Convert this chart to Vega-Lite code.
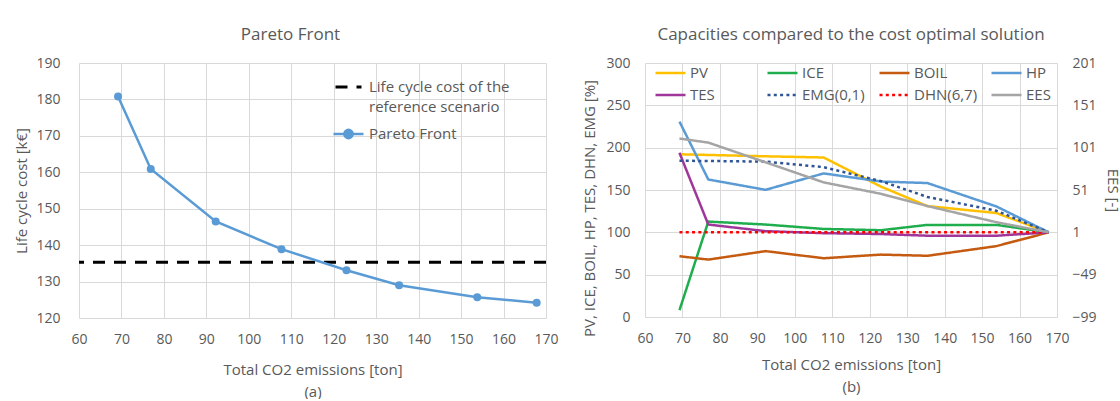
{
  "$schema": "https://vega.github.io/schema/vega-lite/v6.json",
  "background": "white",
  "padding": {"left": 14, "top": 26, "right": 0, "bottom": 0},
  "bounds": "flush",
  "spacing": 99,
  "config": {
    "font": "Open Sans",
    "view": {"stroke": null},
    "axis": {
      "domain": false, "ticks": false, "gridColor": "#d9d9d9", "gridWidth": 1,
      "labelOverlap": false, "labelFlush": false, "labelBound": false,
      "labelColor": "#595959", "labelFontSize": 14, "labelFont": "Open Sans",
      "titleColor": "#595959", "titleFontSize": 15, "titleFontWeight": "normal", "titleFont": "Open Sans"
    },
    "legend": {"labelColor": "#595959", "labelFontSize": 15, "labelFont": "Open Sans", "padding": 0, "title": null},
    "title": {"color": "#595959", "fontSize": 17, "fontWeight": "normal", "font": "Open Sans", "offset": 12, "frame": "group", "anchor": "middle"}
  },
  "datasets": {
    "refcost": [
      {"series": "Life cycle cost of the reference scenario", "cost": 135.3}
    ],
    "pareto": [
      {"series": "Pareto Front", "emissions": 69.2, "cost": 180.8},
      {"series": "Pareto Front", "emissions": 76.9, "cost": 160.9},
      {"series": "Pareto Front", "emissions": 92.2, "cost": 146.5},
      {"series": "Pareto Front", "emissions": 107.7, "cost": 138.9},
      {"series": "Pareto Front", "emissions": 123.0, "cost": 133.1},
      {"series": "Pareto Front", "emissions": 135.4, "cost": 129.0},
      {"series": "Pareto Front", "emissions": 153.8, "cost": 125.7},
      {"series": "Pareto Front", "emissions": 167.8, "cost": 124.2}
    ],
    "caps": [
      {"series": "PV", "emissions": 69.2, "pct": 192.2},
      {"series": "PV", "emissions": 76.9, "pct": 191.4},
      {"series": "PV", "emissions": 92.2, "pct": 189.8},
      {"series": "PV", "emissions": 107.7, "pct": 188.4},
      {"series": "PV", "emissions": 123.0, "pct": 154},
      {"series": "PV", "emissions": 135.4, "pct": 131},
      {"series": "PV", "emissions": 153.8, "pct": 122.8},
      {"series": "PV", "emissions": 167.8, "pct": 100},
      {"series": "ICE", "emissions": 69.2, "pct": 8},
      {"series": "ICE", "emissions": 76.9, "pct": 112.7},
      {"series": "ICE", "emissions": 92.2, "pct": 109.2},
      {"series": "ICE", "emissions": 107.7, "pct": 104},
      {"series": "ICE", "emissions": 123.0, "pct": 102.5},
      {"series": "ICE", "emissions": 135.4, "pct": 108.8},
      {"series": "ICE", "emissions": 153.8, "pct": 108.8},
      {"series": "ICE", "emissions": 167.8, "pct": 100},
      {"series": "BOIL", "emissions": 69.2, "pct": 71.8},
      {"series": "BOIL", "emissions": 76.9, "pct": 67.8},
      {"series": "BOIL", "emissions": 92.2, "pct": 77.8},
      {"series": "BOIL", "emissions": 107.7, "pct": 69.4},
      {"series": "BOIL", "emissions": 123.0, "pct": 73.7},
      {"series": "BOIL", "emissions": 135.4, "pct": 72.3},
      {"series": "BOIL", "emissions": 153.8, "pct": 83.7},
      {"series": "BOIL", "emissions": 167.8, "pct": 100},
      {"series": "HP", "emissions": 69.2, "pct": 230.8},
      {"series": "HP", "emissions": 76.9, "pct": 162.4},
      {"series": "HP", "emissions": 92.2, "pct": 150.2},
      {"series": "HP", "emissions": 107.7, "pct": 169.6},
      {"series": "HP", "emissions": 123.0, "pct": 160},
      {"series": "HP", "emissions": 135.4, "pct": 158.2},
      {"series": "HP", "emissions": 153.8, "pct": 130.6},
      {"series": "HP", "emissions": 167.8, "pct": 100},
      {"series": "TES", "emissions": 69.2, "pct": 193.9},
      {"series": "TES", "emissions": 76.9, "pct": 109.2},
      {"series": "TES", "emissions": 92.2, "pct": 101.4},
      {"series": "TES", "emissions": 107.7, "pct": 99},
      {"series": "TES", "emissions": 123.0, "pct": 98},
      {"series": "TES", "emissions": 135.4, "pct": 96},
      {"series": "TES", "emissions": 153.8, "pct": 96},
      {"series": "TES", "emissions": 167.8, "pct": 100},
      {"series": "EMG(0,1)", "emissions": 69.2, "pct": 184.5},
      {"series": "EMG(0,1)", "emissions": 76.9, "pct": 184.3},
      {"series": "EMG(0,1)", "emissions": 92.2, "pct": 183.5},
      {"series": "EMG(0,1)", "emissions": 107.7, "pct": 177},
      {"series": "EMG(0,1)", "emissions": 123.0, "pct": 160.5},
      {"series": "EMG(0,1)", "emissions": 135.4, "pct": 141.8},
      {"series": "EMG(0,1)", "emissions": 153.8, "pct": 125.5},
      {"series": "EMG(0,1)", "emissions": 167.8, "pct": 100},
      {"series": "DHN(6,7)", "emissions": 69.2, "pct": 100},
      {"series": "DHN(6,7)", "emissions": 76.9, "pct": 100},
      {"series": "DHN(6,7)", "emissions": 92.2, "pct": 100},
      {"series": "DHN(6,7)", "emissions": 107.7, "pct": 100},
      {"series": "DHN(6,7)", "emissions": 123.0, "pct": 100},
      {"series": "DHN(6,7)", "emissions": 135.4, "pct": 100},
      {"series": "DHN(6,7)", "emissions": 153.8, "pct": 100},
      {"series": "DHN(6,7)", "emissions": 167.8, "pct": 100}
    ],
    "ees": [
      {"series": "EES", "emissions": 69.2, "ees": 111.8},
      {"series": "EES", "emissions": 76.9, "ees": 107},
      {"series": "EES", "emissions": 92.2, "ees": 83.7},
      {"series": "EES", "emissions": 107.7, "ees": 60},
      {"series": "EES", "emissions": 123.0, "ees": 46.5},
      {"series": "EES", "emissions": 135.4, "ees": 32},
      {"series": "EES", "emissions": 153.8, "ees": 13},
      {"series": "EES", "emissions": 167.8, "ees": 1}
    ]
  },
  "resolve": {
    "scale": {"color": "independent", "strokeDash": "independent"},
    "legend": {"color": "independent", "strokeDash": "independent"}
  },
  "hconcat": [
    {
      "width": 467,
      "height": 255,
      "title": {"text": "Pareto Front", "dx": -22},
      "layer": [
        {
          "data": {"name": "refcost"},
          "mark": {"type": "rule", "color": "black", "strokeWidth": 3},
          "encoding": {
            "y": {
              "field": "cost", "type": "quantitative",
              "scale": {"domain": [120, 190], "nice": false, "zero": false},
              "axis": {"values": [120, 130, 140, 150, 160, 170, 180, 190], "title": "Life cycle cost [k€]", "labelPadding": 19, "titlePadding": 6}
            },
            "strokeDash": {
              "field": "series", "type": "nominal",
              "scale": {"domain": ["Life cycle cost of the reference scenario"], "range": [[12, 9]]},
              "legend": {
                "orient": "none", "legendX": 255, "legendY": 14,
                "symbolType": "stroke", "symbolSize": 676, "symbolStrokeColor": "black", "symbolStrokeWidth": 3,
                "clipHeight": 20, "labelOffset": 6, "labelLimit": 300,
                "labelExpr": "datum.label == 'Life cycle cost of the reference scenario' ? ['Life cycle cost of the', 'reference scenario'] : datum.label",
                "encode": {
                  "labels": {"update": {"lineHeight": {"value": 20}}},
                  "symbols": {"update": {"strokeDash": {"value": [10, 5.5]}}}
                }
              }
            }
          }
        },
        {
          "data": {"name": "pareto"},
          "mark": {"type": "line", "strokeWidth": 2.5, "point": {"filled": true, "size": 64}},
          "encoding": {
            "x": {
              "field": "emissions", "type": "quantitative",
              "scale": {"domain": [60, 170], "nice": false, "zero": false},
              "axis": {"values": [60, 70, 80, 90, 100, 110, 120, 130, 140, 150, 160, 170], "title": ["Total CO2 emissions [ton]", "(a)"], "titleLineHeight": 22, "labelPadding": 14, "titlePadding": 16}
            },
            "y": {
              "field": "cost", "type": "quantitative",
              "scale": {"domain": [120, 190], "nice": false, "zero": false},
              "axis": {"values": [120, 130, 140, 150, 160, 170, 180, 190], "title": "Life cycle cost [k€]", "labelPadding": 19, "titlePadding": 6}
            },
            "color": {
              "field": "series", "type": "nominal",
              "scale": {"domain": ["Pareto Front"], "range": ["#5B9BD5"]},
              "legend": {
                "orient": "none", "legendX": 253, "legendY": 61,
                "symbolType": "M-1,0L1,0M-0.28,0A0.28,0.28,0,1,0,0.28,0A0.28,0.28,0,1,0,-0.28,0Z",
                "symbolSize": 900, "symbolStrokeWidth": 2.5, "clipHeight": 20, "labelOffset": 4,
                "encode": {"symbols": {"update": {"fill": {"value": "#5B9BD5"}, "stroke": {"value": "#5B9BD5"}}}}
              }
            }
          }
        }
      ]
    },
    {
      "width": 412,
      "height": 254,
      "title": {"text": "Capacities compared to the cost optimal solution"},
      "encoding": {
        "x": {
          "field": "emissions", "type": "quantitative",
          "scale": {"domain": [60, 170], "nice": false, "zero": false},
          "axis": {"values": [60, 70, 80, 90, 100, 110, 120, 130, 140, 150, 160, 170], "title": ["Total CO2 emissions [ton]", "(b)"], "titleLineHeight": 22, "labelPadding": 14, "titlePadding": 12}
        }
      },
      "layer": [
        {
          "data": {"name": "caps"},
          "mark": {"type": "line", "strokeWidth": 2.5},
          "encoding": {
            "y": {
              "field": "pct", "type": "quantitative",
              "scale": {"domain": [0, 300], "nice": false},
              "axis": {"values": [0, 50, 100, 150, 200, 250, 300], "title": "PV, ICE, BOIL, HP, TES, DHN, EMG [%]", "labelPadding": 15, "titlePadding": 8, "titleY": 145}
            },
            "color": {
              "field": "series", "type": "nominal",
              "scale": {
                "domain": ["PV", "ICE", "BOIL", "HP", "TES", "EMG(0,1)", "DHN(6,7)", "EES"],
                "range": ["#FFC000", "#1FAD4E", "#C55A11", "#5B9BD5", "#A0369A", "#2F5597", "#FF0000", "#A5A5A5"]
              },
              "legend": {
                "orient": "none", "legendX": 9, "legendY": 0, "columns": 4, "direction": "horizontal", "gridAlign": "all",
                "columnPadding": 12, "rowPadding": 2, "clipHeight": 20,
                "symbolType": "stroke", "symbolSize": 900, "symbolStrokeWidth": 2.5, "labelOffset": 3
              }
            },
            "strokeDash": {
              "field": "series", "type": "nominal",
              "scale": {
                "domain": ["PV", "ICE", "BOIL", "HP", "TES", "EMG(0,1)", "DHN(6,7)", "EES"],
                "range": [[1, 0], [1, 0], [1, 0], [1, 0], [1, 0], [3, 3.3], [3, 3.3], [1, 0]]
              },
              "legend": {
                "orient": "none", "legendX": 9, "legendY": 0, "columns": 4, "direction": "horizontal", "gridAlign": "all",
                "columnPadding": 12, "rowPadding": 2, "clipHeight": 20,
                "symbolType": "stroke", "symbolSize": 900, "symbolStrokeWidth": 2.5, "labelOffset": 3
              }
            }
          }
        },
        {
          "data": {"name": "ees"},
          "mark": {"type": "line", "strokeWidth": 2.5},
          "encoding": {
            "y": {
              "field": "ees", "type": "quantitative",
              "scale": {"domain": [-99, 201], "nice": false, "zero": false},
              "axis": {"orient": "right", "grid": false, "values": [-99, -49, 1, 51, 101, 151, 201], "title": "EES [-]", "labelPadding": 15, "titlePadding": 8}
            },
            "color": {"field": "series", "type": "nominal"},
            "strokeDash": {"field": "series", "type": "nominal"}
          }
        }
      ],
      "resolve": {"scale": {"y": "independent"}}
    }
  ]
}
